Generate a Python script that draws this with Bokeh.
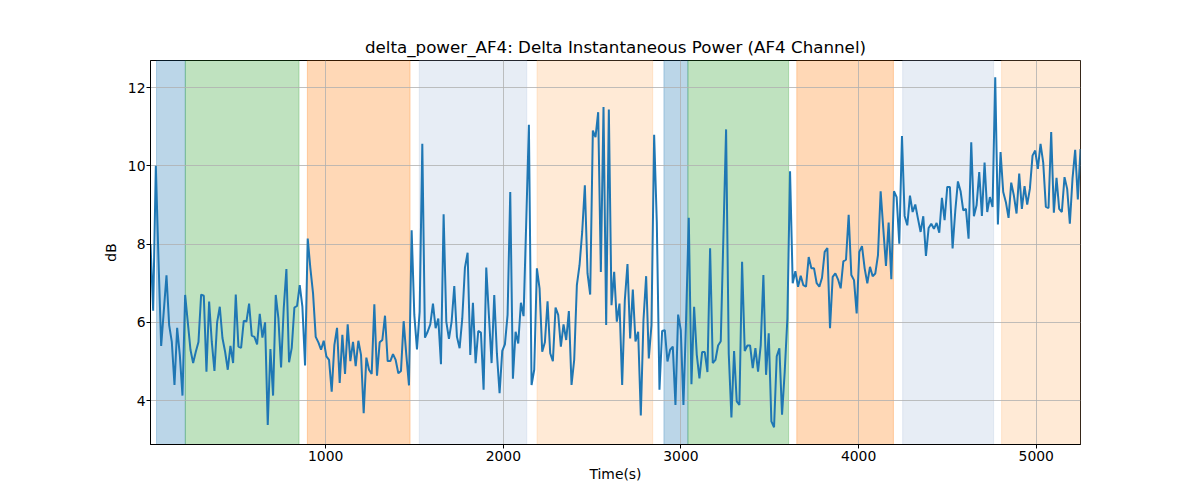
from bokeh.plotting import figure
from bokeh.models import BoxAnnotation, FixedTicker, Range1d
from bokeh.embed import file_html
from bokeh.resources import INLINE

# ---- data -----------------------------------------------------------
title_text = "delta_power_AF4: Delta Instantaneous Power (AF4 Channel)"
x_label = "Time(s)"
y_label = "dB"

t_start = 14.0     # first sample time (s)
t_step = 15.0      # sampling interval (s)

power_db = [
    8.0, 6.3, 10.0, 7.6, 5.4, 6.3, 7.2, 5.93, 5.5, 4.4, 5.86, 5.17, 4.13, 6.7, 6.0, 5.3, 4.96, 5.25, 5.5, 6.71,
    6.68, 4.74, 6.53, 5.5, 4.76, 6.0, 6.4, 5.6, 5.25, 4.79, 5.4, 4.96, 6.71, 5.38, 5.35, 6.04, 6.02, 6.48, 5.66, 5.63,
    5.44, 6.22, 5.61, 6.0,
    3.38, 5.32, 4.13, 6.7, 6.1, 4.85, 6.36, 7.36, 4.98, 5.35, 6.38, 6.42, 6.95, 6.4, 4.9, 8.14, 7.38, 6.74, 5.63, 5.49,
    5.3, 5.53, 5.13, 5.04, 4.23, 5.42, 5.86, 4.45, 5.68, 4.68, 5.95, 5.01, 5.5, 4.88, 5.53, 5.17, 3.68, 5.1, 4.79, 4.68,
    6.46, 4.64, 5.49, 5.55,
    6.17, 5.01, 5.01, 5.19, 5.04, 4.7, 4.76, 6.03, 5.17, 4.39, 8.35, 6.19, 5.31, 6.27, 10.56, 5.61, 5.76, 5.95, 6.48, 5.85,
    6.1, 4.93, 8.76, 6.02, 5.58, 6.02, 6.93, 5.63, 5.34, 6.1, 7.4, 7.78, 5.17, 6.5, 4.96, 5.78, 5.74, 4.28, 7.4, 6.17,
    4.96, 6.7, 5.2,
    4.19, 5.27, 5.44, 6.19, 9.33, 4.56, 5.76, 5.46, 6.5, 6.16, 8.56, 11.05, 4.4, 4.79, 7.38, 6.87, 5.25, 5.49, 6.54, 5.21,
    5.01, 6.38, 6.19, 5.38, 5.95, 5.55, 6.29, 4.4, 5.04, 6.95, 7.46, 8.31, 9.5, 7.25, 6.71, 10.9, 10.73, 11.37, 7.29, 11.5,
    5.93, 11.44, 6.44, 7.29,
    6.02, 6.48, 4.4, 6.57, 7.49, 5.59, 6.84, 5.51, 5.76, 3.62, 6.06, 7.18, 5.08, 5.93, 10.79, 8.56, 4.28, 5.78, 5.8, 5.0,
    5.3, 5.38, 3.89, 6.2, 5.8, 3.89, 6.1, 8.67, 4.42, 6.4, 5.17, 4.57, 5.24, 5.24, 4.73, 7.89, 4.96, 5.04, 5.41, 5.52,
    8.22, 10.93, 5.2,
    3.57, 5.27, 3.98, 3.89, 7.55, 5.27, 5.41, 5.41, 4.83, 5.34, 4.74, 5.42, 7.21, 4.66, 5.72, 3.47, 3.32, 5.13, 5.34, 3.64,
    4.74, 6.1, 9.86, 7.0, 7.31, 6.91, 7.19, 6.95, 6.91, 7.67, 7.38, 7.38, 7.0, 6.91, 7.14, 7.8, 7.9, 5.85, 7.16, 7.25,
    7.1, 6.87, 7.56,
    7.6, 8.75, 7.21, 7.08, 6.23, 7.8, 7.95, 7.38, 7.0, 7.42, 7.18, 7.25, 7.72, 9.35, 8.39, 7.44, 8.55, 7.1, 9.35, 9.2,
    8.01, 10.76, 8.72, 8.48, 9.24, 8.82, 9.01, 8.65, 8.31, 8.71, 7.7, 8.41, 8.52, 8.39, 8.54, 8.29, 9.18, 8.61, 9.46, 9.46,
    7.89, 8.84, 9.6, 9.35,
    8.86, 8.9, 8.14, 10.6, 8.71, 8.99, 9.84, 8.72, 10.08, 8.82, 9.2, 8.95, 12.26, 8.5, 10.35, 9.33, 9.07, 8.67, 9.57, 9.24,
    8.78, 9.8, 8.9, 9.48, 9.01, 9.41, 10.26, 10.39, 9.92, 10.56, 10.09, 8.95, 8.92, 10.86, 8.8, 9.69, 8.9, 8.82, 9.71, 9.41,
    8.52, 9.67, 10.41, 9.14, 10.43,
]
times = [t_start + t_step * i for i in range(len(power_db))]

span_start = [48, 210, 897, 1527, 2190, 2904, 3039, 3652, 4248, 4805]
span_end = [210, 850, 1475, 2132, 2841, 3039, 3606, 4196, 4760, 5249]
span_color = ["#1f77b4", "#2ca02c", "#ff7f0e", "#b0c4de", "#ffbb78",
              "#1f77b4", "#2ca02c", "#ff7f0e", "#b0c4de", "#ffbb78"]

x_ticks = [1000, 2000, 3000, 4000, 5000]
y_ticks = [4, 6, 8, 10, 12]
y_limits = (2.88, 12.69)

# ---- figure ---------------------------------------------------------
FONT = "DejaVu Sans"

p = figure(
    width=1184, height=484,
    x_range=Range1d(times[0], times[-1]),
    y_range=Range1d(*y_limits),
    output_backend="svg", toolbar_location=None,
    title=title_text,
)
p.min_border_left = 150
p.min_border_right = 104
p.min_border_top = 60
p.min_border_bottom = 39
p.background_fill_color = "white"
p.border_fill_color = "white"
p.outline_line_color = "black"
p.outline_line_alpha = 1.0
p.outline_line_width = 1

p.title.text_font = FONT
p.title.text_font_size = "16.7px"
p.title.text_font_style = "normal"
p.title.text_color = "black"
p.title.align = "center"
p.title.standoff = 8

for s, e, c in zip(span_start, span_end, span_color):
    p.add_layout(BoxAnnotation(left=s, right=e, fill_color=c, fill_alpha=0.3,
                               line_color=c, line_alpha=0.3, line_width=1,
                               level="image"))

p.xaxis.ticker = FixedTicker(ticks=x_ticks)
p.yaxis.ticker = FixedTicker(ticks=y_ticks)
p.xaxis.axis_label = x_label
p.yaxis.axis_label = y_label

for ax in (p.xaxis, p.yaxis):
    ax.axis_label_text_font = FONT
    ax.axis_label_text_font_size = "13.9px"
    ax.axis_label_text_font_style = "normal"
    ax.axis_label_text_color = "black"
    ax.major_label_text_font = FONT
    ax.major_label_text_font_size = "13.9px"
    ax.major_label_text_color = "black"
    ax.major_tick_in = 0
    ax.major_tick_out = 4
    ax.major_tick_line_color = "black"
    ax.minor_tick_line_color = None
    ax.axis_line_color = "black"

p.xaxis.major_label_standoff = 2
p.xaxis.axis_label_standoff = 2
p.yaxis.major_label_standoff = 1
p.yaxis.axis_label_standoff = 6

p.grid.grid_line_color = "#b0b0b0"
p.grid.grid_line_width = 0.8
p.grid.grid_line_alpha = 1.0

p.line(times, power_db, line_color="#1f77b4", line_width=2)

open("out.html", "w").write(file_html(p, INLINE))
